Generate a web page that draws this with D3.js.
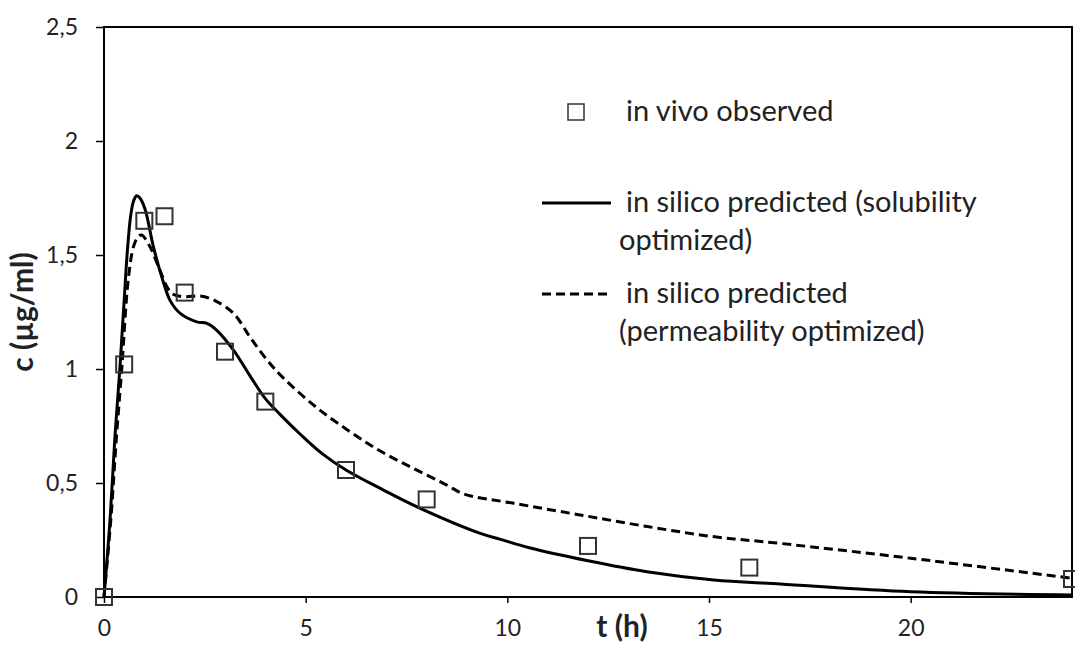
<!DOCTYPE html>
<html>
<head>
<meta charset="utf-8">
<script src="https://cdn.jsdelivr.net/npm/d3@7"></script>
<style>
  html, body { margin: 0; padding: 0; background: #fff; }
  svg { display: block; }
  text { font-family: Lato, "Open Sans", sans-serif; fill: #222; }
</style>
</head>
<body>
<svg id="chart" width="1075" height="646"></svg>
<script>
// Observed plasma concentrations (in vivo)
const obsTime = [0, 0.5, 1, 1.5, 2, 3, 4, 6, 8, 12, 16, 24];
const obsConc = [0, 1.02, 1.65, 1.67, 1.335, 1.076, 0.857, 0.557, 0.428, 0.224, 0.129, 0.079];

// Simulated profile, solubility optimized
const solTime = [0, 0.15, 0.27, 0.4, 0.5, 0.58, 0.66, 0.73, 0.81, 0.89, 1.02, 1.22, 1.43, 1.64, 1.89, 2.3, 2.55, 2.79, 3.21, 3.62, 4.0, 4.37, 4.86, 5.4, 6.0, 6.93, 7.84, 9.33, 9.83, 10.57, 12.0, 13.46, 15.12, 16.77, 20, 24];
const solConc = [0, 0.34, 0.70, 1.02, 1.30, 1.52, 1.67, 1.735, 1.76, 1.75, 1.70, 1.54, 1.405, 1.30, 1.244, 1.207, 1.20, 1.171, 1.083, 0.97, 0.87, 0.80, 0.715, 0.63, 0.557, 0.469, 0.389, 0.279, 0.253, 0.215, 0.159, 0.111, 0.075, 0.057, 0.023, 0.009];

// Simulated profile, permeability optimized
const permTime = [0, 0.17, 0.3, 0.44, 0.6, 0.73, 0.83, 0.93, 1.14, 1.35, 1.56, 1.68, 1.85, 2.05, 2.38, 2.75, 3.21, 3.62, 4.04, 4.45, 5.28, 6.1, 6.85, 7.67, 8.5, 8.92, 10.16, 11.8, 13.47, 15.1, 16.77, 20, 24];
const permConc = [0, 0.34, 0.68, 1.0, 1.39, 1.536, 1.575, 1.588, 1.536, 1.449, 1.361, 1.332, 1.32, 1.317, 1.32, 1.30, 1.244, 1.14, 1.04, 0.96, 0.83, 0.725, 0.640, 0.564, 0.491, 0.452, 0.411, 0.36, 0.309, 0.265, 0.235, 0.17, 0.082];

const xTicks = [0, 5, 10, 15, 20];
const yTicks = [0, 0.5, 1, 1.5, 2, 2.5];

const legendItems = [
  { kind: "marker", lines: ["in vivo observed"] },
  { kind: "solid",  lines: ["in silico predicted (solubility", "optimized)"] },
  { kind: "dashed", lines: ["in silico predicted", "(permeability optimized)"] }
];

const svg = d3.select("#chart");
const plot = { left: 104, right: 1072, top: 27, bottom: 597 };

const x = d3.scaleLinear().domain([0, 24]).range([plot.left, plot.right]);
const y = d3.scaleLinear().domain([0, 2.5]).range([plot.bottom, plot.top]);
const fmt = d => String(d).replace(".", ",");

// Plot frame
svg.append("rect")
  .attr("x", plot.left).attr("y", plot.top)
  .attr("width", plot.right - plot.left).attr("height", plot.bottom - plot.top)
  .attr("fill", "none").attr("stroke", "#000").attr("stroke-width", 2);

// Axes
const xAxis = svg.append("g")
  .attr("transform", `translate(0,${plot.bottom})`)
  .call(d3.axisBottom(x).tickValues(xTicks).tickFormat(fmt).tickSize(6).tickPadding(17));
const yAxis = svg.append("g")
  .attr("transform", `translate(${plot.left},0)`)
  .call(d3.axisLeft(y).tickValues(yTicks).tickFormat(fmt).tickSize(8).tickPadding(18));

[xAxis, yAxis].forEach(g => {
  g.select(".domain").remove();
  g.selectAll(".tick line").attr("stroke", "#000").attr("stroke-width", 1.5);
  g.selectAll(".tick text")
    .attr("fill", "#222")
    .style("font-family", "Lato, 'Open Sans', sans-serif")
    .style("font-size", "23px");
});

// Axis titles
svg.append("text")
  .attr("x", 622).attr("y", 637)
  .attr("text-anchor", "middle")
  .style("font-size", "30px").style("font-weight", "bold")
  .text("t (h)");
svg.append("text")
  .attr("transform", "translate(33,312) rotate(-90)")
  .attr("text-anchor", "middle")
  .style("font-size", "30px").style("font-weight", "bold")
  .text("c (µg/ml)");

// Simulated curves
const line = d3.line().x(d => x(d[0])).y(d => y(d[1])).curve(d3.curveCatmullRom.alpha(0.5));
svg.append("path")
  .datum(permTime.map((t, i) => [t, permConc[i]]))
  .attr("d", line)
  .attr("fill", "none").attr("stroke", "#000").attr("stroke-width", 3)
  .attr("stroke-dasharray", "9,5");
svg.append("path")
  .datum(solTime.map((t, i) => [t, solConc[i]]))
  .attr("d", line)
  .attr("fill", "none").attr("stroke", "#000").attr("stroke-width", 3);

// Observed points
const sq = 16;
svg.append("g").selectAll("rect")
  .data(obsTime.map((t, i) => [t, obsConc[i]]))
  .join("rect")
  .attr("x", d => x(d[0]) - sq / 2)
  .attr("y", d => y(d[1]) - sq / 2)
  .attr("width", sq).attr("height", sq)
  .attr("fill", "none").attr("stroke", "#333").attr("stroke-width", 2);

// Legend
const legend = svg.append("g");
const rowY = [112, 203, 294];
legendItems.forEach((item, i) => {
  const cy = rowY[i];
  if (item.kind === "marker") {
    legend.append("rect")
      .attr("x", 576 - 8).attr("y", cy - 8).attr("width", 16).attr("height", 16)
      .attr("fill", "none").attr("stroke", "#333").attr("stroke-width", 1.5);
  } else {
    legend.append("line")
      .attr("x1", 542).attr("x2", 611).attr("y1", cy).attr("y2", cy)
      .attr("stroke", "#000").attr("stroke-width", 3)
      .attr("stroke-dasharray", item.kind === "dashed" ? "9,5" : null);
  }
  item.lines.forEach((s, j) => {
    legend.append("text")
      .attr("x", j === 0 ? 626 : 619)
      .attr("y", cy + 9 + j * 38)
      .style("font-size", "29px")
      .text(s);
  });
});
</script>
</body>
</html>
